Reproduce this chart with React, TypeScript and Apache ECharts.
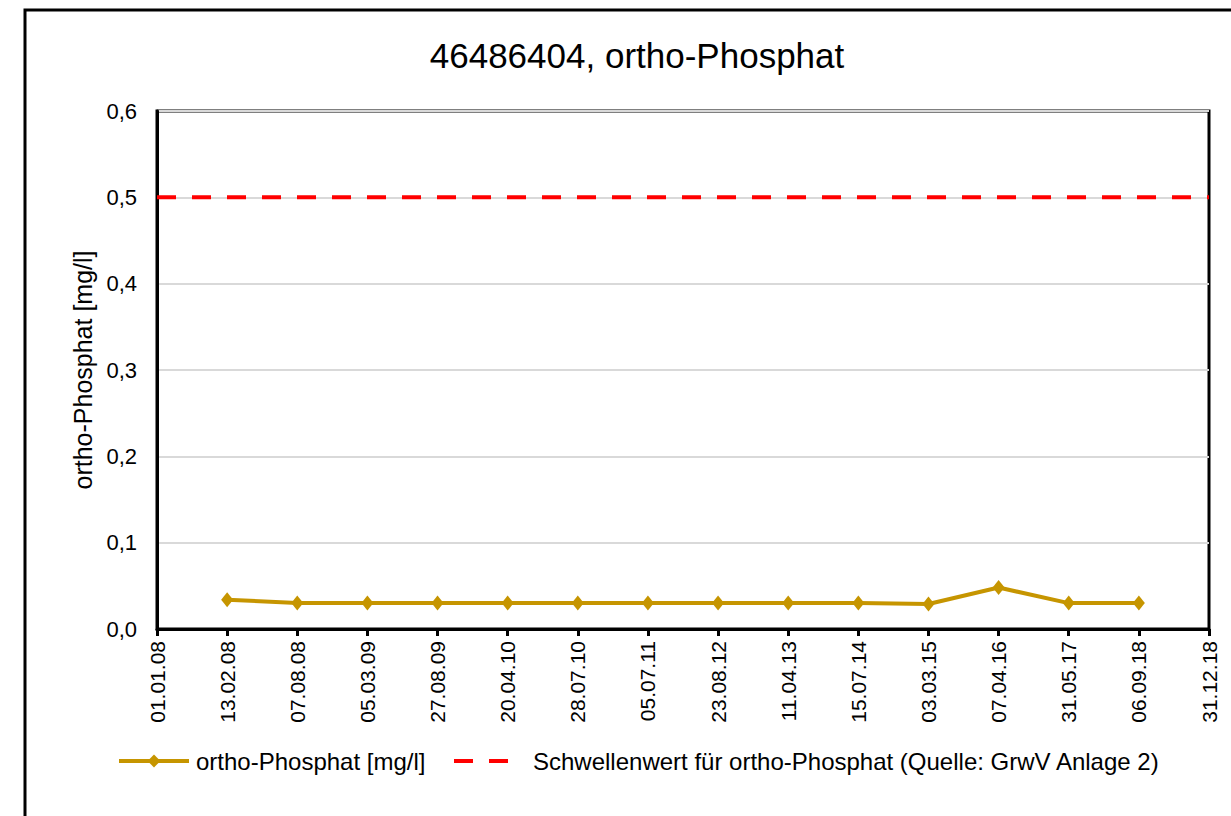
import React, { useEffect, useRef } from "react";
import * as echarts from "echarts";

const titleText = "46486404, ortho-Phosphat";
const yAxisName = "ortho-Phosphat [mg/l]";
const seriesName = "ortho-Phosphat [mg/l]";
const thresholdName = "Schwellenwert für ortho-Phosphat (Quelle: GrwV Anlage 2)";

const categories = [
  "01.01.08", "13.02.08", "07.08.08", "05.03.09", "27.08.09", "20.04.10",
  "28.07.10", "05.07.11", "23.08.12", "11.04.13", "15.07.14", "03.03.15",
  "07.04.16", "31.05.17", "06.09.18", "31.12.18",
];

const phosphatValues = [
  null, 0.034, 0.030, 0.030, 0.030, 0.030, 0.030, 0.030, 0.030, 0.030,
  0.030, 0.029, 0.048, 0.030, 0.030, null,
];

const thresholdValue = 0.5;
const thresholdValues = categories.map(() => thresholdValue);

const yMin = 0;
const yMax = 0.6;
const yInterval = 0.1;

const FONT = "'Liberation Sans', Arial, sans-serif";
const GOLD = "#C69500";

export default function App() {
  const ref = useRef<HTMLDivElement>(null);

  useEffect(() => {
    if (!ref.current) return;
    const chart = echarts.init(ref.current, undefined, { renderer: "svg" });
    chart.setOption({
      animation: false,
      backgroundColor: "#ffffff",
      textStyle: { fontFamily: FONT },
      title: {
        text: titleText,
        left: 632,
        top: 33,
        textAlign: "center",
        textStyle: { fontFamily: FONT, fontSize: 35, fontWeight: "normal", color: "#000" },
      },
      graphic: [
        {
          type: "rect",
          shape: { x: 25, y: 10, width: 1260, height: 900 },
          style: { fill: "none", stroke: "#000", lineWidth: 3 },
          silent: true,
          z: 100,
        },
      ],
      legend: [
        {
          data: [seriesName],
          left: 117,
          top: 749,
          padding: 0,
          itemWidth: 70,
          itemHeight: 16,
          lineStyle: { width: 4 },
          textStyle: { fontFamily: FONT, fontSize: 24, color: "#000", padding: [0, 0, 0, 2] },
        },
        {
          data: [thresholdName],
          left: 452,
          top: 749,
          padding: 0,
          itemWidth: 56,
          itemHeight: 16,
          itemStyle: { opacity: 0 },
          lineStyle: { width: 4 },
          textStyle: { fontFamily: FONT, fontSize: 24, color: "#000", padding: [0, 0, 0, 18] },
        },
      ],
      grid: {
        left: 157,
        top: 111,
        right: 22,
        bottom: 187,
        show: true,
        borderColor: "#000",
        borderWidth: 3,
        containLabel: false,
      },
      xAxis: {
        type: "category",
        data: categories,
        boundaryGap: false,
        axisLine: { show: true, lineStyle: { color: "#000", width: 3 } },
        axisTick: { show: true, inside: false, length: 7, lineStyle: { color: "#000", width: 3 } },
        axisLabel: {
          rotate: 90,
          interval: 0,
          margin: 12,
          fontFamily: FONT,
          fontSize: 21,
          color: "#000",
        },
        splitLine: { show: false },
      },
      yAxis: {
        type: "value",
        min: yMin,
        max: yMax,
        interval: yInterval,
        name: yAxisName,
        nameLocation: "middle",
        nameGap: 62,
        nameRotate: 90,
        nameTextStyle: { fontFamily: FONT, fontSize: 25, color: "#000" },
        axisLine: { show: true, lineStyle: { color: "#000", width: 3 } },
        axisTick: { show: false },
        axisLabel: {
          margin: 20,
          fontFamily: FONT,
          fontSize: 22,
          color: "#000",
          formatter: (v: number) => v.toFixed(1).replace(".", ","),
        },
        splitLine: { show: true, lineStyle: { color: "#d9d9d9", width: 2 } },
      },
      series: [
        {
          name: seriesName,
          type: "line",
          data: phosphatValues,
          connectNulls: false,
          symbol: "diamond",
          symbolSize: [12, 15],
          itemStyle: { color: GOLD },
          lineStyle: { color: GOLD, width: 4 },
          z: 3,
        },
        {
          name: thresholdName,
          type: "line",
          data: thresholdValues,
          symbol: "none",
          itemStyle: { color: "#ff0000" },
          lineStyle: { color: "#ff0000", width: 4, type: [19, 16] },
          z: 2,
        },
      ],
    });
    return () => chart.dispose();
  }, []);

  return (
    <div
      ref={ref}
      style={{ position: "fixed", left: 0, top: 0, width: 1231, height: 816 }}
    />
  );
}
